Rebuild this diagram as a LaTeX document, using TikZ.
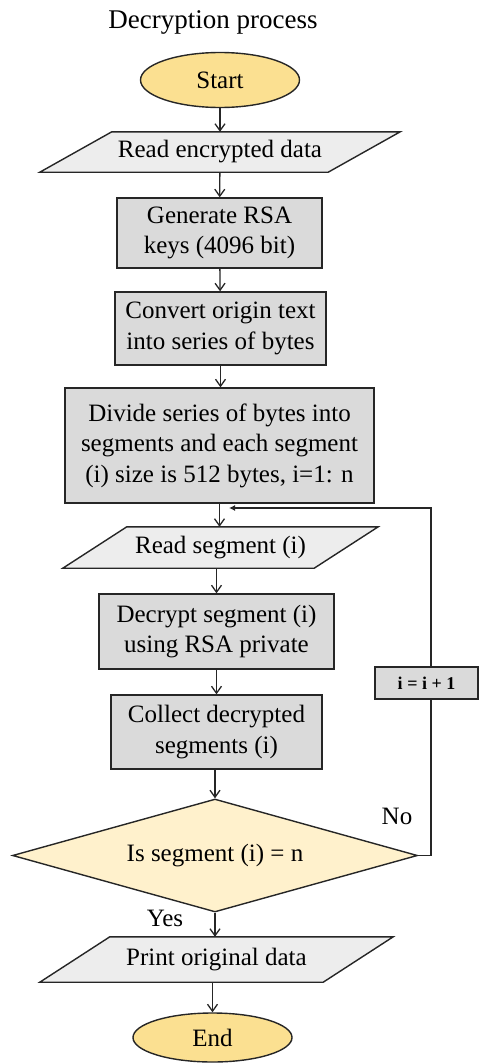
\documentclass[tikz,border=0pt]{standalone}
\usepackage{fontspec}
\setmainfont{Liberation Serif}
\usetikzlibrary{shapes.geometric,arrows.meta,backgrounds}
\begin{document}
\begin{tikzpicture}[x=1pt,y=-1pt,
  every node/.style={font=\fontsize{25}{30.5}\selectfont, inner sep=0pt, align=center},
  base/.style={draw=black!85, line width=1.4pt},
  term/.style={base, ellipse, fill=yellowterm, minimum width=159pt, minimum height=55pt},
  proc/.style={base, rectangle, fill=greybox},
  io/.style={rectangle},
  iofill/.style={base, fill=greyio, line join=miter},
  dec/.style={base, diamond, fill=yellowdec, minimum width=405pt, minimum height=113pt, aspect=3.58},
  arr/.style={draw=black!85, line width=1.3pt, -{Straight Barb[length=7pt,width=10pt]}},
  larr/.style={draw=black!85, line width=1.3pt, -{Latex[length=6pt,width=6pt]}},
  lbl/.style={font=\fontsize{25}{30}\selectfont}
]
\definecolor{yellowterm}{HTML}{FBE091}
\definecolor{yellowdec}{HTML}{FFF1CC}
\definecolor{greybox}{HTML}{DADADA}
\definecolor{greyio}{HTML}{EDEDED}
\useasboundingbox (0,0) rectangle (479,1063);

\node[font=\fontsize{27}{30}\selectfont] (title) at (213,22) {Decryption process};
\node[term] (start) at (220,80) {Start};
\node[io, minimum width=360pt, minimum height=40pt] (read) at (220,152) {Read encrypted data};
\node[proc, minimum width=205pt, minimum height=70pt] (gen) at (219.5,233) {Generate RSA\\keys (4096 bit)};
\node[proc, minimum width=211pt, minimum height=73pt] (conv) at (220.5,328.5) {Convert origin text\\into series of bytes};
\node[proc, minimum width=309pt, minimum height=115pt] (div) at (219.5,445.5) {Divide series of bytes into\\segments and each segment\\(i) size is 512 bytes, i=1: n};
\node[io, minimum width=315pt, minimum height=41pt] (rseg) at (220.5,547.5) {Read segment (i)};
\node[proc, minimum width=235pt, minimum height=75pt] (decr) at (216.5,631.5) {Decrypt segment (i)\\using RSA private};
\node[proc, minimum width=211pt, minimum height=74pt] (col) at (216.5,732) {Collect decrypted\\segments (i)};
\node[dec] (dia) at (215,855.5) {Is segment (i) = n};
\node[io, minimum width=353pt, minimum height=45pt] (print) at (216.5,959.5) {Print original data};
\node[term, minimum height=49pt] (end) at (212.5,1037.5) {End};

\begin{scope}[on background layer]
  \draw[iofill] ([xshift=72pt]read.north west) -- (read.north east) -- ([xshift=-72pt]read.south east) -- (read.south west) -- cycle;
  \draw[iofill] ([xshift=64pt]rseg.north west) -- (rseg.north east) -- ([xshift=-64pt]rseg.south east) -- (rseg.south west) -- cycle;
  \draw[iofill] ([xshift=70pt]print.north west) -- (print.north east) -- ([xshift=-70pt]print.south east) -- (print.south west) -- cycle;
\end{scope}

\coordinate (lc1) at (431,855.5);
\coordinate (lc2) at (431,508);
\coordinate (lend) at (229,508);

\draw[arr] (start) -- (read);
\draw[arr] (read) -- (gen);
\draw[arr] (gen) -- (conv);
\draw[arr] (conv) -- (conv |- div.north);
\draw[arr] (div) -- (div |- rseg.north);
\draw[arr] (rseg.south -| decr) -- (decr);
\draw[arr] (decr) -- (col);
\draw[arr] (col.south -| dia) -- (dia);
\draw[arr] (dia) -- (dia |- print.north);
\draw[arr] (print.south -| end) -- (end);

\draw[larr] (dia.east) -- (lc1) -- (lc2) -- (lend);
\node[proc, minimum width=103pt, minimum height=32pt, font=\bfseries\fontsize{18}{20}\selectfont] (inc) at (426.5,683) {i = i + 1};

\node[lbl] (no) at (397,816) {No};
\node[lbl] (yes) at (165,918) {Yes};
\end{tikzpicture}
\end{document}
